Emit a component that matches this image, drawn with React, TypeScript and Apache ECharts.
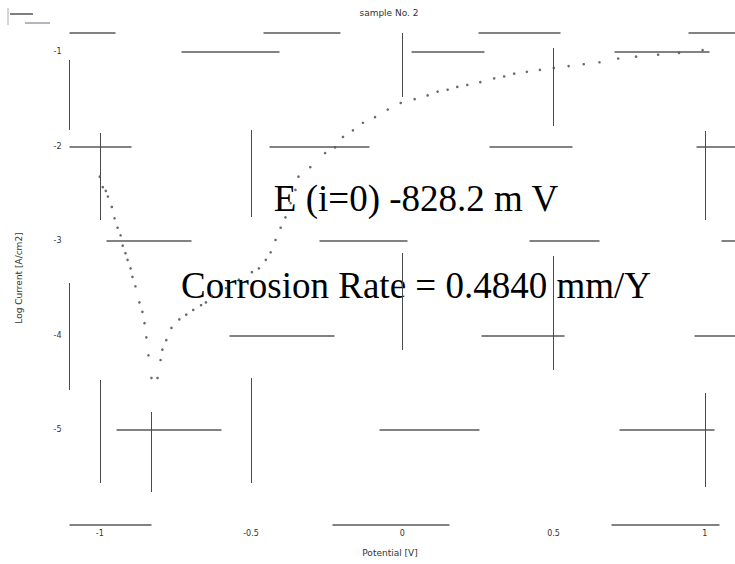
import React, { useEffect, useRef } from "react";
import * as echarts from "echarts";

// Tafel scan: potential (V) vs log current density
const cathodicPotential = [
  -1.0, -0.99, -0.98, -0.973, -0.96, -0.951, -0.941, -0.931, -0.924, -0.915,
  -0.908, -0.898, -0.892, -0.882, -0.869, -0.859, -0.852, -0.846, -0.839, -0.829,
];
const cathodicLogI = [
  -2.32, -2.43, -2.47, -2.53, -2.64, -2.76, -2.86, -2.94, -3.05, -3.13,
  -3.2, -3.29, -3.38, -3.48, -3.65, -3.75, -3.87, -4.02, -4.21, -4.45,
];
const anodicPotential = [
  -0.809, -0.799, -0.793, -0.78, -0.763, -0.737, -0.714, -0.691, -0.665, -0.649,
  -0.629, -0.583, -0.54, -0.497, -0.474, -0.451, -0.435, -0.419, -0.402, -0.386,
  -0.369, -0.353, -0.343, -0.304, -0.255, -0.222, -0.196, -0.163, -0.13, -0.09,
  -0.048, -0.005, 0.041, 0.084, 0.117, 0.15, 0.182, 0.215, 0.258, 0.304,
  0.337, 0.37, 0.412, 0.455, 0.501, 0.55, 0.6, 0.652, 0.714, 0.773,
  0.846, 0.915, 0.993,
];
const anodicLogI = [
  -4.45, -4.26, -4.15, -4.05, -3.92, -3.83, -3.78, -3.73, -3.68, -3.65,
  -3.58, -3.5, -3.41, -3.33, -3.29, -3.2, -3.12, -2.99, -2.86, -2.75,
  -2.6, -2.46, -2.32, -2.22, -2.07, -2.01, -1.9, -1.83, -1.75, -1.69,
  -1.61, -1.54, -1.5, -1.46, -1.42, -1.4, -1.37, -1.35, -1.32, -1.28,
  -1.26, -1.23, -1.21, -1.19, -1.17, -1.15, -1.13, -1.11, -1.07, -1.05,
  -1.03, -1.01, -0.98,
];

const xTicks = [-1, -0.5, 0, 0.5, 1];
const yTicks = [-5, -4, -3, -2, -1];
const xRange = [-1.1, 1.1];
const yRange = [-6, -0.8];

const ecorrMv = -828.2;
const corrosionRate = 0.484;

const titleText = "sample No. 2";
const xName = "Potential [V]";
const yName = "Log Current [A/cm2]";

// broken grid rules: dash pattern per line (px), starting from left / top
const hDash: Record<string, number[]> = {
  "-0.8": [46, 148, 77, 138, 82, 128, 80, 200],
  "-1": [0, 112, 98, 132, 73, 130, 95, 200],
  "-2": [62, 138, 100, 120, 83, 124, 80, 200],
  "-3": [0, 37, 85, 128, 88, 122, 70, 122, 40, 200],
  "-4": [0, 160, 105, 147, 83, 130, 80, 200],
  "-5": [0, 47, 105, 158, 100, 140, 95, 200],
  "-6": [82, 181, 117, 162, 108, 200],
};
const vDash: Record<string, number[]> = {
  "-1.1": [0, 27, 70, 153, 107, 300],
  "-1": [0, 100, 87, 160, 103, 300],
  "-0.5": [0, 97, 87, 161, 105, 300],
  "0": [64, 156, 97, 300],
  "0.5": [0, 15, 78, 130, 114, 300],
  "1": [0, 98, 89, 173, 94, 300],
  ecorr: [0, 379, 80, 300],
};

function toPoints(xs: number[], ys: number[]) {
  return xs.map((x, i) => [x, ys[i]]);
}

export default function App() {
  const ref = useRef<HTMLDivElement>(null);

  useEffect(() => {
    if (!ref.current) return;
    const chart = echarts.init(ref.current, undefined, { renderer: "svg" });

    const hLines = [yRange[1], ...yTicks.slice().reverse(), yRange[0]].map((v) => [
      {
        coord: [xRange[0], v],
        lineStyle: { color: "#5a5a5a", width: 1.6, type: hDash[String(v)] },
      },
      { coord: [xRange[1], v] },
    ]);
    const ecorrV = ecorrMv / 1000;
    const vKeys: [number, string][] = [
      [xRange[0], "-1.1"],
      ...xTicks.map((v) => [v, String(v)] as [number, string]),
      [ecorrV, "ecorr"],
    ];
    const vLines = vKeys.map(([v, key]) => [
      {
        coord: [v, yRange[1]],
        lineStyle: { color: "#4a4a4a", width: 1, type: vDash[key] },
      },
      { coord: [v, yRange[0]] },
    ]);

    const serif = "'Liberation Serif', 'Times New Roman', serif";
    const sans = "'DejaVu Sans', sans-serif";

    chart.setOption({
      animation: false,
      backgroundColor: "#ffffff",
      grid: { left: 69.5, top: 33, width: 670, height: 491.5 },
      xAxis: {
        type: "value",
        min: xRange[0],
        max: xRange[1],
        axisLine: { show: false },
        axisTick: { show: false },
        splitLine: { show: false },
        axisLabel: {
          customValues: xTicks,
          fontSize: 8,
          color: "#333",
          fontFamily: sans,
          margin: 5,
        },
      },
      yAxis: {
        type: "value",
        min: yRange[0],
        max: yRange[1],
        axisLine: { show: false },
        axisTick: { show: false },
        splitLine: { show: false },
        axisLabel: {
          customValues: yTicks,
          fontSize: 8,
          color: "#333",
          fontFamily: sans,
          margin: 8,
        },
      },
      series: [
        {
          type: "scatter",
          name: "cathodic",
          data: toPoints(cathodicPotential, cathodicLogI),
          symbol: "circle",
          symbolSize: 2.6,
          itemStyle: { color: "#444" },
          markLine: {
            silent: true,
            symbol: ["none", "none"],
            label: { show: false },
            data: [...hLines, ...vLines],
          },
        },
        {
          type: "scatter",
          name: "anodic",
          data: toPoints(anodicPotential, anodicLogI),
          symbol: "circle",
          symbolSize: 2.6,
          itemStyle: { color: "#444" },
        },
      ],
      graphic: [
        {
          type: "text",
          x: 389,
          y: 13,
          style: {
            text: titleText,
            fontSize: 9,
            fontFamily: sans,
            fill: "#333",
            align: "center",
            verticalAlign: "middle",
            textAlign: "center",
            textVerticalAlign: "middle",
          },
        },
        {
          type: "text",
          x: 390,
          y: 553,
          style: {
            text: xName,
            fontSize: 9,
            fontFamily: sans,
            fill: "#333",
            align: "center",
            verticalAlign: "middle",
            textAlign: "center",
            textVerticalAlign: "middle",
          },
        },
        {
          type: "text",
          x: 19,
          y: 278,
          rotation: Math.PI / 2,
          style: {
            text: yName,
            fontSize: 9,
            fontFamily: sans,
            fill: "#333",
            align: "center",
            verticalAlign: "middle",
            textAlign: "center",
            textVerticalAlign: "middle",
          },
        },
        {
          type: "text",
          x: 416,
          y: 198.5,
          style: {
            text: `E (i=0) ${ecorrMv.toFixed(1)} m V`,
            fontSize: 37,
            fontFamily: serif,
            fill: "#000",
            align: "center",
            verticalAlign: "middle",
            textAlign: "center",
            textVerticalAlign: "middle",
          },
        },
        {
          type: "text",
          x: 416,
          y: 285.5,
          style: {
            text: `Corrosion Rate = ${corrosionRate.toFixed(4)} mm/Y`,
            fontSize: 37,
            fontFamily: serif,
            fill: "#000",
            align: "center",
            verticalAlign: "middle",
            textAlign: "center",
            textVerticalAlign: "middle",
          },
        },
        {
          type: "line",
          shape: { x1: 10, y1: 14, x2: 33, y2: 14 },
          style: { stroke: "#555", lineWidth: 1.5 },
        },
        {
          type: "line",
          shape: { x1: 25, y1: 23, x2: 50, y2: 23 },
          style: { stroke: "#8a7f99", lineWidth: 1.2 },
        },
        {
          type: "line",
          shape: { x1: 8, y1: 8, x2: 8, y2: 25 },
          style: { stroke: "#aaa", lineWidth: 1 },
        },
      ],
    });

    return () => chart.dispose();
  }, []);

  return (
    <div
      ref={ref}
      style={{
        position: "fixed",
        left: 0,
        top: 0,
        width: 735,
        height: 564,
        background: "#fff",
      }}
    />
  );
}
